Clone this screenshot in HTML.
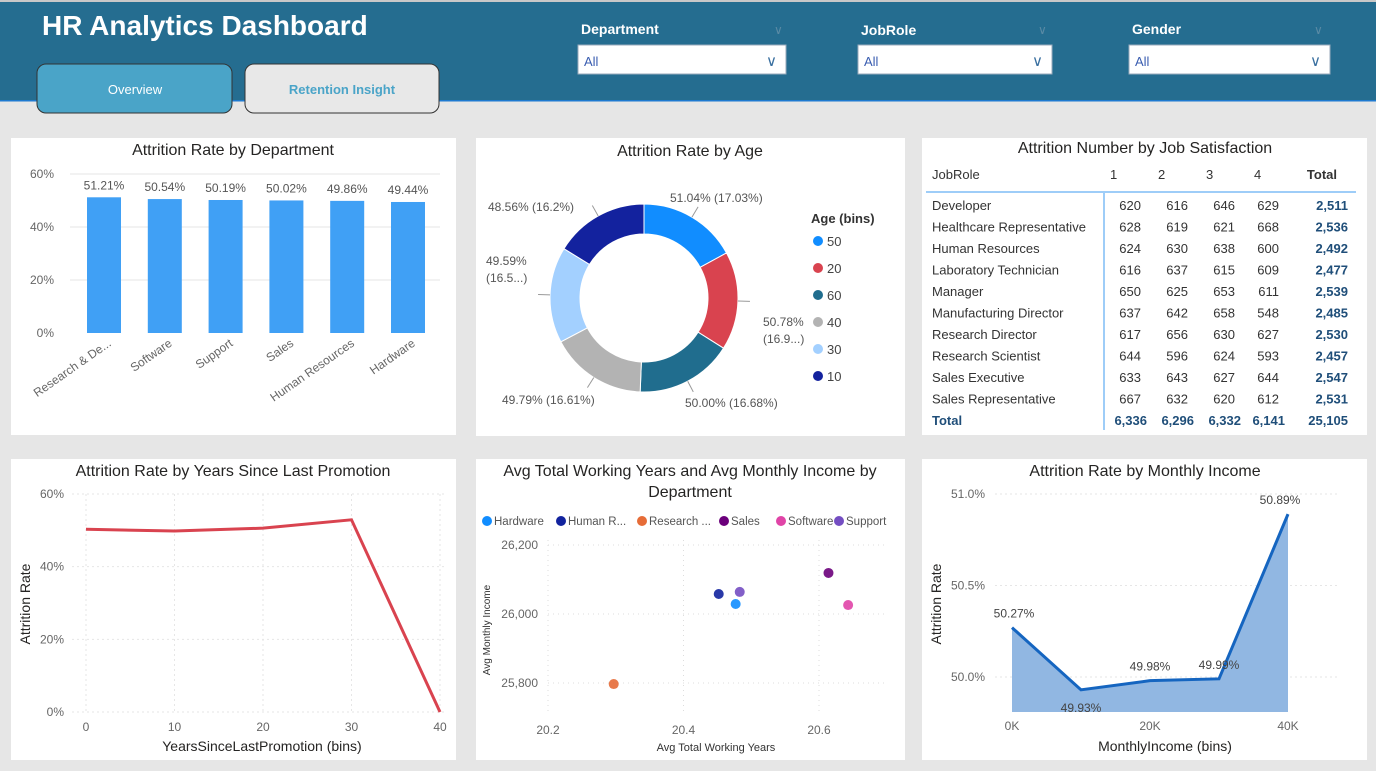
<!DOCTYPE html>
<html><head><meta charset="utf-8"><style>
body{margin:0;width:1376px;height:771px;overflow:hidden;background:#e6e6e6;font-family:"Liberation Sans",sans-serif}
svg{position:absolute;left:0;top:0}
text{font-family:"Liberation Sans",sans-serif}
</style></head><body>
<svg id="s" width="1376" height="771">
<rect x="0" y="0" width="1376" height="101" fill="#256d90"/>
<rect x="0" y="0" width="1376" height="2" fill="#c8c8c8"/>
<rect x="0" y="100" width="1376" height="1.5" fill="#1f7ad0"/>
<text x="42" y="35" font-size="28" font-weight="bold" fill="#fff">HR Analytics Dashboard</text>
<g><rect x="37" y="64" width="195" height="49" rx="9" fill="#4aa4c8" stroke="#333" stroke-width="1"/><text x="135" y="94" font-size="13" fill="#fff" text-anchor="middle">Overview</text></g>
<g><rect x="245" y="64" width="194" height="49" rx="9" fill="#e8e8e8" stroke="#333" stroke-width="1"/><text x="342" y="94" font-size="13" font-weight="bold" fill="#4aa4c8" text-anchor="middle">Retention Insight</text></g>
</svg>
<script>
const NS="http://www.w3.org/2000/svg";
const S=document.getElementById('s');
function el(t,a,p,txt){const e=document.createElementNS(NS,t);for(const k in a)e.setAttribute(k,a[k]);if(txt!==undefined)e.textContent=txt;(p||S).appendChild(e);return e;}
function T(x,y,s,o,p){return el('text',Object.assign({x:x,y:y,'font-size':13,fill:'#444'},o||{}),p,s);}

// slicers
const slicerNames=['Department','JobRole','Gender'];
const slicerX=[578,858,1129];
slicerNames.forEach((n,i)=>{
 const g=el('g',{});
 
 
 T(slicerX[i]+3,i==1?35:34,n,{fill:'#fff','font-size':14,'font-weight':'bold'},g);
 T(slicerX[i]+(i==0?196:i==1?180:185),34,'∨',{fill:'#5a8aa5','font-size':12},g);
 el('rect',{x:slicerX[i],y:45,width:i==0?208:i==1?194:201,height:29,fill:'#fff',stroke:'#9ab',
  'stroke-width':1},g);
 T(slicerX[i]+6,66,'All',{fill:'#3a5db0','font-size':13},g);
 T(slicerX[i]+(i==0?188:i==1?174:181),66,'∨',{fill:'#3a70a0','font-size':15},g);
});

// panels
const P=[[11,138,445,297],[476,138,429,298],[922,138,445,297],[11,459,445,301],[476,459,429,301],[922,459,445,301]];
const pn=['dept-panel','age-panel','satisfaction-panel','promotion-panel','scatter-panel','income-panel'];
P.forEach((p,i)=>{const r=el('rect',{x:p[0],y:p[1],width:p[2],height:p[3],fill:'#fff'});
 });
const titles=[['Attrition Rate by Department',233,155],['Attrition Rate by Age',690,156],['Attrition Number by Job Satisfaction',1145,153],['Attrition Rate by Years Since Last Promotion',233,476],['Avg Total Working Years and Avg Monthly Income by',690,476],['Department',690,497],['Attrition Rate by Monthly Income',1145,476]];
titles.forEach(t=>{const e=T(t[1],t[2],t[0],{'font-size':16,fill:'#252423','text-anchor':'middle'});
 });

// ---- Bar chart
const deptCats=['Research & De...','Software','Support','Sales','Human Resources','Hardware'];
const deptVals=[51.21,50.54,50.19,50.02,49.86,49.44];
const deptTicks=[0,20,40,60];
const bx=i=>104+i*60.8, by=v=>333-v*(159/60);
deptTicks.forEach(t=>{T(54,by(t)+4,t+'%',{'text-anchor':'end',fill:'#666','font-size':12});
 if(t>0)el('line',{x1:70,x2:440,y1:by(t),y2:by(t),stroke:'#e6e6e6'});});
deptVals.forEach((v,i)=>{const r=el('rect',{x:bx(i)-17,y:by(v),width:34,height:333-by(v),fill:'#40a0f5'});
 
 T(bx(i),by(v)-8,v.toFixed(2)+'%',{'text-anchor':'middle',fill:'#555','font-size':12});
 T(bx(i)+8,345,deptCats[i],{'text-anchor':'end',fill:'#666','font-size':12,transform:`rotate(-35 ${bx(i)+8} 345)`});});

// ---- Donut
const ageBins=['50','20','60','40','30','10'];
const agePct=[17.03,16.9,16.68,16.61,16.5,16.2];
const ageLbl=['51.04% (17.03%)','50.78% (16.9...)','50.00% (16.68%)','49.79% (16.61%)','49.59% (16.5...)','48.56% (16.2%)'];
const ageCol=['#118dff','#d9434f','#206d8e','#b3b3b3','#a3d0ff','#13229e'];
const cx=644,cy=298,R=94,r0=64;const tot=agePct.reduce((a,b)=>a+b,0);let a0=0;
agePct.forEach((v,i)=>{const a1=a0+v/tot*2*Math.PI;
 const pt=(a,rr)=>[cx+rr*Math.sin(a),cy-rr*Math.cos(a)];
 const [x1,y1]=pt(a0,R),[x2,y2]=pt(a1,R),[x3,y3]=pt(a1,r0),[x4,y4]=pt(a0,r0);
 const s=el('path',{d:`M${x1},${y1}A${R},${R} 0 0 1 ${x2},${y2}L${x3},${y3}A${r0},${r0} 0 0 0 ${x4},${y4}Z`,fill:ageCol[i],stroke:'#fff','stroke-width':1});
 
 const am=(a0+a1)/2;const [lx,ly]=pt(am,R+12);
 el('line',{x1:pt(am,R)[0],y1:pt(am,R)[1],x2:lx,y2:ly,stroke:'#999'});
 a0=a1;});
[[670,202,'start',0],[763,326,'start',1],[685,407,'start',2],[502,404,'start',3],[486,265,'start',4],[488,211,'start',5]].forEach(l=>{
 const t=ageLbl[l[3]];
 if(l[3]==1){T(l[0],l[1],'50.78%',{fill:'#555','font-size':12});T(l[0],l[1]+17,'(16.9...)',{fill:'#555','font-size':12});}
 else if(l[3]==4){T(l[0],l[1],'49.59%',{fill:'#555','font-size':12});T(l[0],l[1]+17,'(16.5...)',{fill:'#555','font-size':12});}
 else T(l[0],l[1],t,{fill:'#555','font-size':12});});
T(811,223,'Age (bins)',{'font-weight':'bold',fill:'#333','font-size':13});
ageBins.forEach((b,i)=>{el('circle',{cx:818,cy:241+i*27,r:5,fill:ageCol[i]});T(827,246+i*27,b,{fill:'#444'});});

// ---- Table
const roles=['Developer','Healthcare Representative','Human Resources','Laboratory Technician','Manager','Manufacturing Director','Research Director','Research Scientist','Sales Executive','Sales Representative'];
const sat=[[620,616,646,629],[628,619,621,668],[624,630,638,600],[616,637,615,609],[650,625,653,611],[637,642,658,548],[617,656,630,627],[644,596,624,593],[633,643,627,644],[667,632,620,612]];
const colTot=[6336,6296,6332,6141];const cR=[1141,1188,1235,1279];const hL=[1110,1158,1206,1254];
T(932,179,'JobRole',{fill:'#333'});['1','2','3','4'].forEach((h,j)=>T(hL[j],179,h,{fill:'#333'}));
T(1337,179,'Total',{fill:'#333','font-weight':'bold','text-anchor':'end'});
el('line',{x1:926,x2:1356,y1:192,y2:192,stroke:'#3c9bf0'});
el('line',{x1:1104,x2:1104,y1:193,y2:430,stroke:'#3c9bf0'});
const fmt=n=>n.toLocaleString('en-US');
roles.forEach((r,i)=>{const y=210+i*21.5;T(932,y,r,{fill:'#333'});
 sat[i].forEach((v,j)=>T(cR[j],y,v,{fill:'#333','text-anchor':'end'}));
 T(1348,y,fmt(sat[i].reduce((a,b)=>a+b,0)),{fill:'#1f4e79','font-weight':'bold','text-anchor':'end'});});
T(932,425,'Total',{fill:'#1f4e79','font-weight':'bold'});
colTot.forEach((v,j)=>T(cR[j]+6,425,fmt(v),{fill:'#1f4e79','font-weight':'bold','text-anchor':'end'}));
T(1348,425,fmt(colTot.reduce((a,b)=>a+b,0)),{fill:'#1f4e79','font-weight':'bold','text-anchor':'end'});

// ---- Promotion line
const promoBins=[0,10,20,30,40];const promoVals=[50.3,49.8,50.6,52.9,0];const promoTicks=[0,20,40,60];
const px=v=>86+v*8.85,py=v=>712-v*(218/60);
promoTicks.forEach(t=>{T(64,py(t)+4,t+'%',{'text-anchor':'end',fill:'#666','font-size':12});
 el('line',{x1:72,x2:446,y1:py(t),y2:py(t),stroke:'#e6e6e6','stroke-dasharray':'2,3'});});
promoBins.forEach(b=>{T(px(b),731,b,{'text-anchor':'middle',fill:'#666','font-size':12});
 el('line',{x1:px(b),x2:px(b),y1:494,y2:712,stroke:'#e6e6e6','stroke-dasharray':'2,3'});});
const pl=el('polyline',{points:promoBins.map((b,i)=>px(b)+','+py(promoVals[i])).join(' '),fill:'none',stroke:'#d9434f','stroke-width':3});

T(262,751,'YearsSinceLastPromotion (bins)',{'text-anchor':'middle',fill:'#252423','font-size':14});
T(30,604,'Attrition Rate',{'text-anchor':'middle',fill:'#252423','font-size':14,transform:'rotate(-90 30 604)'});

// ---- Scatter
const scNames=['Hardware','Human R...','Research ...','Sales','Software','Support'];
const scX=[20.477,20.452,20.297,20.614,20.643,20.483];
const scY=[26029,26058,25797,26119,26026,26064];
const scCol=['#118dff','#12239e','#e66c37','#6b007b','#e044a7','#744ec2'];
const sx=v=>548+(v-20.2)*677.5,sy=v=>614-(v-26000)*0.345;
[20.2,20.4,20.6].forEach(t=>{T(sx(t),734,t.toFixed(1),{'text-anchor':'middle',fill:'#666','font-size':12});
 el('line',{x1:sx(t),x2:sx(t),y1:540,y2:712,stroke:'#ddd','stroke-dasharray':'1,4'});});
[25800,26000,26200].forEach(t=>{T(538,sy(t)+4,fmt(t),{'text-anchor':'end',fill:'#666','font-size':12});
 el('line',{x1:548,x2:886,y1:sy(t),y2:sy(t),stroke:'#ddd','stroke-dasharray':'1,4'});});
let lx0=[481,555,636,718,775,833];
scNames.forEach((n,i)=>{el('circle',{cx:lx0[i]+6,cy:521,r:5,fill:scCol[i]});T(lx0[i]+13,525,n,{fill:'#555','font-size':11.5});
 const c=el('circle',{cx:sx(scX[i]),cy:sy(scY[i]),r:5,fill:scCol[i],opacity:0.9});
 });
T(716,751,'Avg Total Working Years',{'text-anchor':'middle',fill:'#333','font-size':11});
T(490,630,'Avg Monthly Income',{'text-anchor':'middle',fill:'#333','font-size':10,transform:'rotate(-90 490 630)'});

// ---- Income area
const incBins=[0,10,20,30,40];const incVals=[50.27,49.93,49.98,49.99,50.89];const incTicks=[50.0,50.5,51.0];
const ix=v=>1012+v*6.9,iy=v=>677-(v-50)*183;
incTicks.forEach(t=>{T(985,iy(t)+4,t.toFixed(1)+'%',{'text-anchor':'end',fill:'#666','font-size':12});
 el('line',{x1:995,x2:1340,y1:iy(t),y2:iy(t),stroke:'#e6e6e6','stroke-dasharray':'2,3'});});
[0,20,40].forEach(t=>T(ix(t),730,t+'K',{'text-anchor':'middle',fill:'#666','font-size':12}));
const pts=incBins.map((b,i)=>ix(b)+','+iy(incVals[i])).join(' ');
el('polygon',{points:ix(0)+',712 '+pts+' '+ix(40)+',712',fill:'#91b7e2'});
const il=el('polyline',{points:pts,fill:'none',stroke:'#1565c0','stroke-width':3});

incVals.forEach((v,i)=>{const below=(i==1);T(ix(incBins[i])+(i==4?-8:i==0?2:0),iy(v)+(below?22:-10),v.toFixed(2)+'%',{'text-anchor':'middle',fill:'#444','font-size':12});});
T(1165,751,'MonthlyIncome (bins)',{'text-anchor':'middle',fill:'#252423','font-size':14});
T(941,604,'Attrition Rate',{'text-anchor':'middle',fill:'#252423','font-size':14,transform:'rotate(-90 941 604)'});
</script>
</body></html>
